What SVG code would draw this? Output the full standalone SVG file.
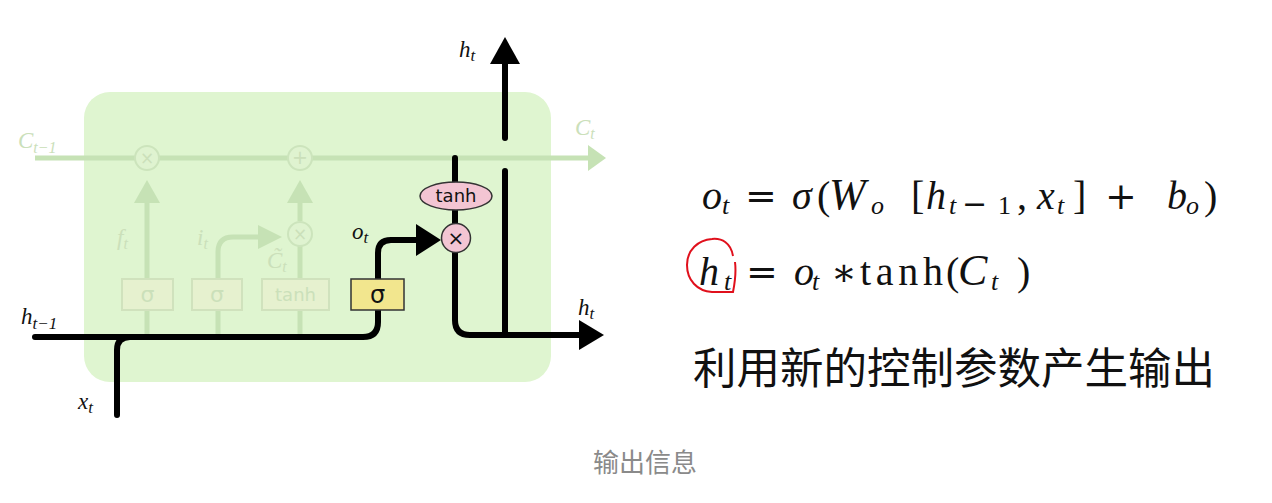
<svg xmlns="http://www.w3.org/2000/svg" width="1272" height="503" viewBox="0 0 1272 503">
<defs>
<style>
.fl{fill:none;stroke:#c6e2b5;stroke-width:5}
.fa{fill:#c6e2b5}
.fb{fill:#e6f1cf;stroke:#d0e2bd;stroke-width:2}
.fc{fill:#dff3d0;stroke:#cce4bc;stroke-width:2}
.ft{font-family:"DejaVu Sans",sans-serif;fill:#cbe0ba}
.bl{fill:none;stroke:#000;stroke-width:6;stroke-linecap:round;stroke-linejoin:round}
.lab{font-family:"Liberation Serif",serif;font-style:italic;font-size:23px;fill:#111}
.flab{font-family:"Liberation Serif",serif;font-style:italic;font-size:23px;fill:#cbe0ba}
.eq{font-family:"Liberation Serif",serif;font-size:40px;fill:#111}
.op{font-family:"DejaVu Serif",serif;font-size:38px;font-weight:300}
.it{font-style:italic}
.sub{font-size:26px}
.cjk{font-family:"Noto Sans CJK SC",sans-serif}
</style>
</defs>
<rect width="1272" height="503" fill="#fff"/>
<g id="cell">
<rect x="84" y="92" width="467" height="290" rx="26" fill="#dff5d0"/>
</g>
<g id="connectors">
<line class="fl" x1="35" y1="158" x2="590" y2="158"/>
<polygon class="fa" points="588,145 606,158 588,171"/>
<line class="fl" x1="147" y1="337" x2="147" y2="198"/>
<polygon class="fa" points="134,203 147,180 160,203"/>
<line class="fl" x1="300" y1="221" x2="300" y2="198"/>
<polygon class="fa" points="287,203 300,180 313,203"/>
<path class="fl" d="M218,337 V252 Q218,237 233,237 H262"/>
<polygon class="fa" points="258,225 282,237 258,249"/>
<line class="fl" x1="300" y1="337" x2="300" y2="245"/>
<path class="bl" d="M35,337 H363 Q378,337 378,322 V310"/>
<path class="bl" d="M117,415 V350 Q117,337 130,337"/>
<path class="bl" d="M378,279 V253 Q378,240 391,240 H420"/>
<polygon points="416,224 441,240 416,256" fill="#000"/>
<path class="bl" d="M455,158 V320 Q455,335 470,335 H582"/>
<polygon points="579,320 604,335 579,350" fill="#000"/>
<line class="bl" x1="505" y1="335" x2="505" y2="171"/>
<line class="bl" x1="505" y1="138" x2="505" y2="62"/>
<polygon points="490,64 505,37 520,64" fill="#000"/>
</g>
<g id="forget-mult">
<circle class="fc" cx="147" cy="158" r="12"/>
<text class="ft" x="147" y="164" font-size="17" text-anchor="middle">×</text>
</g>
<g id="add">
<circle class="fc" cx="300" cy="158" r="12"/>
<text class="ft" x="300" y="164" font-size="19" text-anchor="middle">+</text>
</g>
<g id="input-mult">
<circle class="fc" cx="300" cy="234" r="12"/>
<text class="ft" x="300" y="240" font-size="17" text-anchor="middle">×</text>
</g>
<g id="forget-gate">
<rect class="fb" x="122" y="279" width="51" height="31"/>
<text class="ft" x="147.5" y="302" font-size="22" text-anchor="middle">σ</text>
</g>
<g id="input-gate">
<rect class="fb" x="192" y="279" width="50" height="31"/>
<text class="ft" x="217" y="302" font-size="22" text-anchor="middle">σ</text>
</g>
<g id="tanh-gate">
<rect class="fb" x="262" y="279" width="67" height="31"/>
<text class="ft" x="295.5" y="301" font-size="18" text-anchor="middle">tanh</text>
</g>
<g id="output-gate">
<rect x="351" y="279" width="53" height="31" fill="#f2e68e" stroke="#333" stroke-width="1.5"/>
<text x="377.5" y="303" font-family="DejaVu Sans,sans-serif" font-size="24" text-anchor="middle" fill="#111">σ</text>
</g>
<g id="tanh-op">
<ellipse cx="456" cy="196" rx="36" ry="14" fill="#f3c5d3" stroke="#333" stroke-width="1.5"/>
<text x="456" y="202" font-family="DejaVu Sans,sans-serif" font-size="18" text-anchor="middle" fill="#111">tanh</text>
</g>
<g id="output-mult">
<circle cx="456" cy="238" r="14.5" fill="#f3c5d3" stroke="#333" stroke-width="1.5"/>
<text x="456" y="245" font-family="DejaVu Sans,sans-serif" font-size="20" text-anchor="middle" fill="#111">×</text>
</g>
<g id="labels">
<text class="flab" x="18" y="148">C<tspan font-size="16" dy="5">t−1</tspan></text>
<text class="flab" x="575" y="135">C<tspan font-size="16" dy="4">t</tspan></text>
<text class="flab" x="117" y="245">f<tspan font-size="16" dy="4">t</tspan></text>
<text class="flab" x="197" y="245">i<tspan font-size="16" dy="4">t</tspan></text>
<text class="flab" x="267" y="268">C̃<tspan font-size="16" dy="4">t</tspan></text>
<text class="lab" x="21" y="324">h<tspan font-size="17" dy="5">t−1</tspan></text>
<text class="lab" x="78" y="409">x<tspan font-size="17" dy="4">t</tspan></text>
<text class="lab" x="352" y="239">o<tspan font-size="17" dy="4">t</tspan></text>
<text class="lab" x="459" y="57">h<tspan font-size="17" dy="4">t</tspan></text>
<text class="lab" x="578" y="315">h<tspan font-size="17" dy="4">t</tspan></text>
</g>
<g id="equations">
<text class="eq">
<tspan class="it" x="702" y="209">o</tspan><tspan class="it sub" x="722" y="214">t</tspan>
<tspan class="op" x="745" y="209">=</tspan>
<tspan class="it" x="792" y="209">σ</tspan>
<tspan x="817" y="209">(</tspan>
<tspan class="it" x="829" y="209" font-size="44">W</tspan><tspan class="it sub" x="871" y="214">o</tspan>
<tspan x="911" y="209">[</tspan>
<tspan class="it" x="926" y="209">h</tspan><tspan class="it sub" x="949" y="214">t</tspan><tspan x="962" y="214" font-family="DejaVu Serif,serif" font-size="30">−</tspan><tspan class="sub" x="998" y="214">1</tspan>
<tspan x="1017" y="209">,</tspan>
<tspan class="it" x="1037" y="209">x</tspan><tspan class="it sub" x="1057" y="214">t</tspan>
<tspan x="1073" y="209">]</tspan>
<tspan class="op" x="1105" y="209">+</tspan>
<tspan class="it" x="1167" y="209">b</tspan><tspan class="it sub" x="1186" y="214">o</tspan>
<tspan x="1204" y="209">)</tspan>
</text>
<text class="eq">
<tspan class="it" x="699" y="285">h</tspan><tspan class="it sub" x="724" y="290">t</tspan>
<tspan class="op" x="746" y="285">=</tspan>
<tspan class="it" x="794" y="285">o</tspan><tspan class="it sub" x="812" y="290">t</tspan>
<tspan class="op" x="831" y="285">∗</tspan>
<tspan x="946" y="285">(</tspan>
<tspan class="it" x="958" y="285" font-size="44">C</tspan><tspan class="it sub" x="991" y="290">t</tspan>
<tspan x="1017" y="285">)</tspan>
</text>
<text class="eq" x="860" y="285" font-size="42" textLength="83" lengthAdjust="spacing">tanh</text>
<path d="M733,256 C731,243 722,238 712,239 C698,240 687,250 687,265 C687,280 697,291 712,292 L733,292 C735,282 736,270 735,262" fill="none" stroke="#e0101c" stroke-width="2"/>
</g>
<g id="description">
<text class="cjk" x="693" y="384" font-size="43.5" fill="#111">利用新的控制参数产生输出</text>
</g>
<g id="caption">
<text class="cjk" x="593" y="472" font-size="26" fill="#8a8a8a">输出信息</text>
</g>
</svg>
